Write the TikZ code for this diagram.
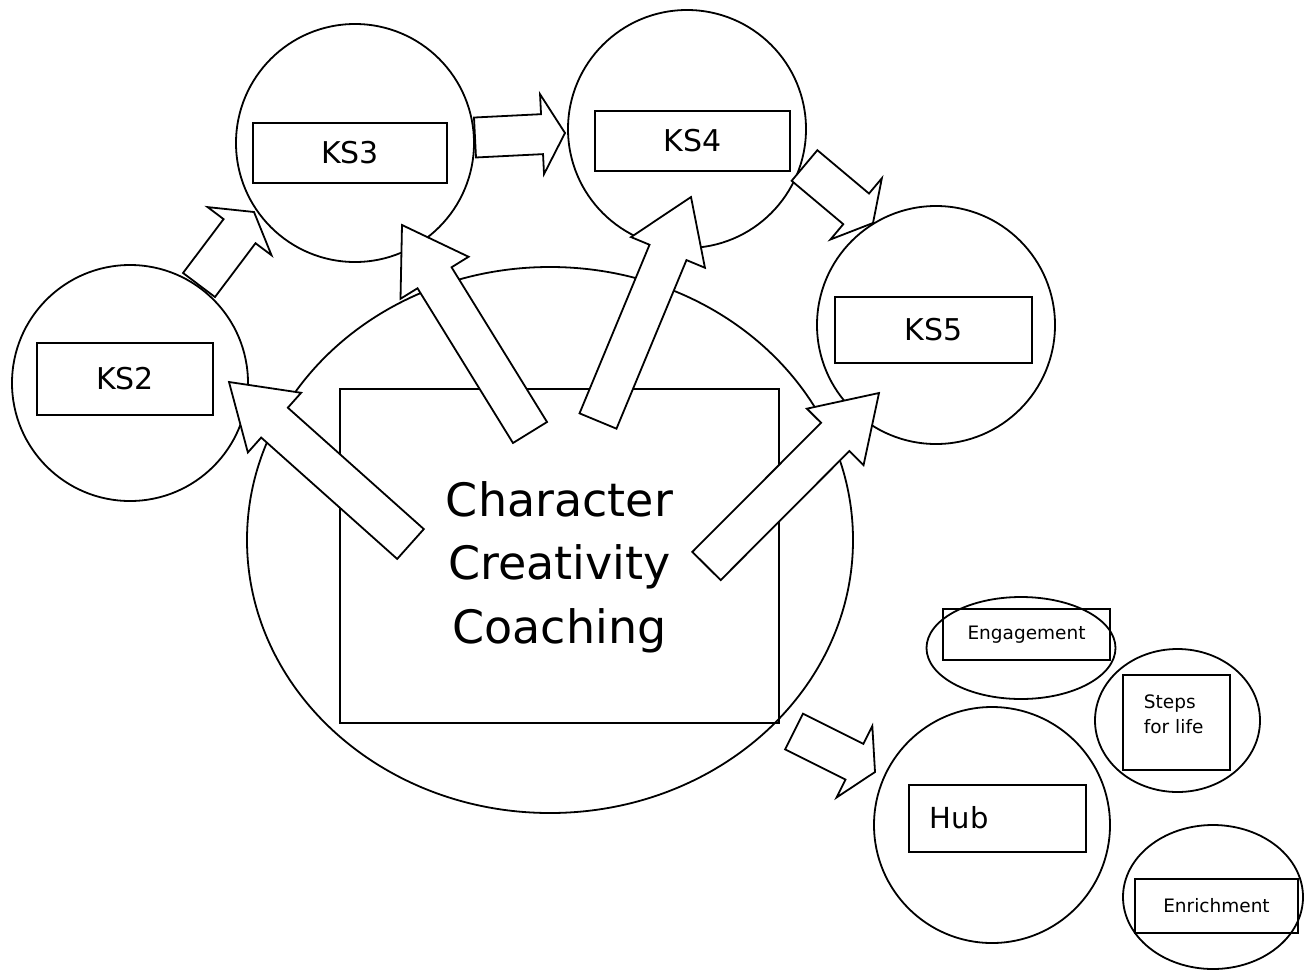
\documentclass[tikz,border=0pt]{standalone}
\usepackage{fontspec}
\setmainfont{DejaVu Sans}
\usetikzlibrary{calc, shapes.geometric}

\newcommand{\bigfont}{\fontsize{46}{63.5}\selectfont}
\newcommand{\ksfont}{\fontsize{30}{36}\selectfont}
\newcommand{\hubfont}{\fontsize{29}{35}\selectfont}
\newcommand{\tinyfont}{\fontsize{18.5}{25}\selectfont}

\tikzset{
  ring/.style={circle, draw, minimum size=#1, inner sep=0pt},
  oval/.style={ellipse, draw, inner sep=0pt},
  tag/.style={rectangle, draw, inner sep=0pt},
  blockarr/.style={draw, fill=white, line join=miter},
}

% block arrow: tail, tip, head length
\newcommand{\blockarrow}[3]{%
  \coordinate (neck) at ($(#2)!#3!(#1)$);
  \draw[blockarr] ($(#1)!20pt!90:(#2)$) -- ($(neck)!20pt!90:(#2)$) -- ($(neck)!40pt!90:(#2)$) -- (#2)
    -- ($(neck)!40pt!-90:(#2)$) -- ($(neck)!20pt!-90:(#2)$) -- ($(#1)!20pt!-90:(#2)$) -- cycle;
}

\begin{document}
\begin{tikzpicture}[x=1pt, y=-1pt, line width=1.8pt]
\useasboundingbox (0,0) rectangle (1312,975);

% key stages
\node[ring=236pt] (ks2) at (130,383) {};
\node[ring=238pt] (ks3) at (355,143) {};
\node[ring=238pt] (ks4) at (687,129) {};
\node[ring=238pt] (ks5) at (936,325) {};
\node[oval, minimum width=606pt, minimum height=546pt] (core) at (550,540) {};

\node[tag, minimum width=176pt, minimum height=72pt, font=\ksfont] (ks2box) at (125,379) {KS2};
\node[tag, minimum width=194pt, minimum height=60pt, font=\ksfont] (ks3box) at (350,153) {KS3};
\node[tag, minimum width=195pt, minimum height=60pt, font=\ksfont] (ks4box) at (692.5,141) {KS4};
\node[tag, minimum width=197pt, minimum height=66pt, font=\ksfont] (ks5box) at (933.5,330) {KS5};

\node[tag, minimum width=439pt, minimum height=334pt] (corebox) at (559.5,556) {};
\node[align=center, font=\bigfont] (coretext) at (559.5,567) {Character\\Creativity\\Coaching};

% hub and friends
\node[ring=236pt] (hub) at (992,825) {};
\node[tag, minimum width=177pt, minimum height=67pt] (hubbox) at (997.5,818.5) {};
\node[anchor=base west, inner sep=0pt, font=\hubfont] (hubtext) at (929,828) {Hub};

\node[oval, minimum width=189pt, minimum height=102pt] (engage) at (1021,648) {};
\node[tag, minimum width=167pt, minimum height=51pt, font=\tinyfont] (engagebox) at (1026.5,634.5) {Engagement};

\node[oval, minimum width=165pt, minimum height=143pt] (steps) at (1177.5,720.5) {};
\node[tag, minimum width=107pt, minimum height=95pt] (stepsbox) at (1176.5,722.5) {};
\node[anchor=north west, inner sep=0pt, align=left, font=\tinyfont] (stepstext) at (1143,694) {Steps\\for life};

\node[oval, minimum width=180pt, minimum height=144pt] (enrich) at (1213,897) {};
\node[tag, minimum width=163pt, minimum height=54pt, font=\tinyfont] (enrichbox) at (1216.5,906) {Enrichment};

% arrow ends
\coordinate (t1) at (199,285);   \coordinate (h1) at (254,212);
\coordinate (t2) at (475,137.5); \coordinate (h2) at (565,133);
\coordinate (t3) at (804.5,165.5); \coordinate (h3) at (873,223);
\coordinate (t4) at (410.5,544); \coordinate (h4) at (229,382);
\coordinate (t5) at (530,432.5); \coordinate (h5) at (402,225);
\coordinate (t6) at (598,421);   \coordinate (h6) at (691,197);
\coordinate (t7) at (706.5,566); \coordinate (h7) at (879,393);
\coordinate (t8) at (794,731.5); \coordinate (h8) at (875,772);

\blockarrow{t1}{h1}{24pt}
\blockarrow{t2}{h2}{23pt}
\blockarrow{t3}{h3}{22pt}
\blockarrow{t4}{h4}{61pt}
\blockarrow{t5}{h5}{62pt}
\blockarrow{t6}{h6}{60pt}
\blockarrow{t7}{h7}{62pt}
\blockarrow{t8}{h8}{23pt}
\end{tikzpicture}
\end{document}
